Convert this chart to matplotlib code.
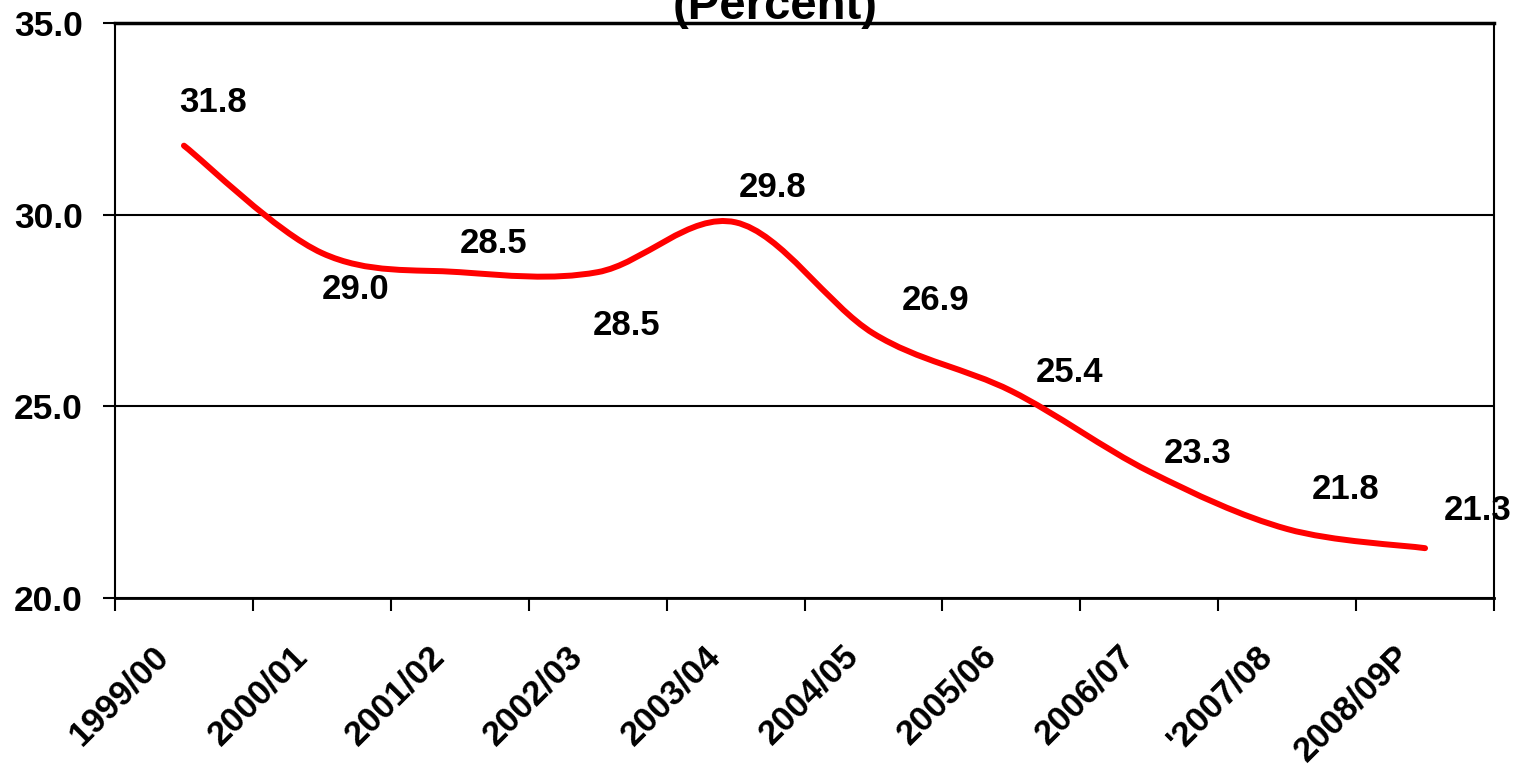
import matplotlib
matplotlib.use("Agg")
import matplotlib.pyplot as plt
import matplotlib.transforms as mtransforms
from matplotlib.path import Path
from matplotlib.patches import PathPatch

plt.rcParams['font.family'] = ['Liberation Sans', 'DejaVu Sans']
plt.rcParams['font.weight'] = 'bold'

# data
years = ["1999/00", "2000/01", "2001/02", "2002/03", "2003/04",
         "2004/05", "2005/06", "2006/07", "'2007/08", "2008/09P"]
share = [31.8, 29.0, 28.5, 28.5, 29.8, 26.9, 25.4, 23.3, 21.8, 21.3]
label_text = ["31.8", "29.0", "28.5", "28.5", "29.8", "26.9", "25.4", "23.3", "21.8", "21.3"]
# label offsets in pixels (hand placed like the original)
label_dx = [29, 34, 34, 29, 37, 62, 58, 48, 58, 53]
label_dy = [43, -37, 29, -53, 35, 33, 19, 18, 39, 38]

fig = plt.figure(figsize=(15.23, 7.75), dpi=100)
ax = fig.add_axes([115/1523, 1 - 598/775, (1494 - 115)/1523, (598 - 23)/775])

xs = list(range(len(share)))

# smoothed line (Catmull-Rom style bezier, like the spreadsheet "smoothed line")
verts = [(xs[0], share[0])]
codes = [Path.MOVETO]
n = len(share)
for i in range(n - 1):
    p0 = (xs[max(i - 1, 0)], share[max(i - 1, 0)])
    p1 = (xs[i], share[i])
    p2 = (xs[i + 1], share[i + 1])
    p3 = (xs[min(i + 2, n - 1)], share[min(i + 2, n - 1)])
    c1 = (p1[0] + (p2[0] - p0[0]) / 6, p1[1] + (p2[1] - p0[1]) / 6)
    c2 = (p2[0] - (p3[0] - p1[0]) / 6, p2[1] - (p3[1] - p1[1]) / 6)
    verts += [c1, c2, p2]
    codes += [Path.CURVE4] * 3
ax.add_patch(PathPatch(Path(verts, codes), facecolor='none', edgecolor='#ff0000',
                       lw=4.3, capstyle='round', joinstyle='round', zorder=3))

for x, y, t, dx, dy in zip(xs, share, label_text, label_dx, label_dy):
    ax.annotate(t, (x, y), xytext=(dx, dy), textcoords='offset pixels',
                ha='center', va='center', fontsize=25, fontweight='bold',
                annotation_clip=False, zorder=5)

ax.set_xlim(-0.5, 9.5)
ax.set_ylim(20, 35)
ax.set_yticks([20, 25, 30, 35])
ax.set_yticklabels(["20.0", "25.0", "30.0", "35.0"])
ax.yaxis.grid(True, color='black', lw=1.5)
ax.set_axisbelow(True)

ax.set_xticks([i - 0.5 for i in range(11)])
ax.set_xticklabels([])
ax.set_xticks(xs, minor=True)
ax.set_xticklabels(years, minor=True, rotation=45, ha='right', va='center',
                   rotation_mode='anchor', fontsize=25, fontweight='bold')
ax.tick_params(axis='x', which='minor', length=0, pad=38)
ax.tick_params(axis='x', which='major', length=9, width=1.5, direction='out')
ax.tick_params(axis='y', length=9, width=1.5, labelsize=25.5, pad=14)
for lbl in ax.get_yticklabels():
    lbl.set_fontweight('bold')
shift = mtransforms.ScaledTranslation(-0.2, 0, fig.dpi_scale_trans)
for lbl in ax.get_xticklabels(minor=True):
    lbl.set_transform(lbl.get_transform() + shift)

for s in ax.spines.values():
    s.set_linewidth(1.5)
    s.set_color('black')
ax.spines['bottom'].set_linewidth(2)
ax.spines['top'].set_linewidth(2.5)

fig.text(775/1523, 1 - 19/775, "(Percent)", ha='center', va='baseline',
         fontsize=34, fontweight='bold')

fig.savefig("out.png", dpi=100)
